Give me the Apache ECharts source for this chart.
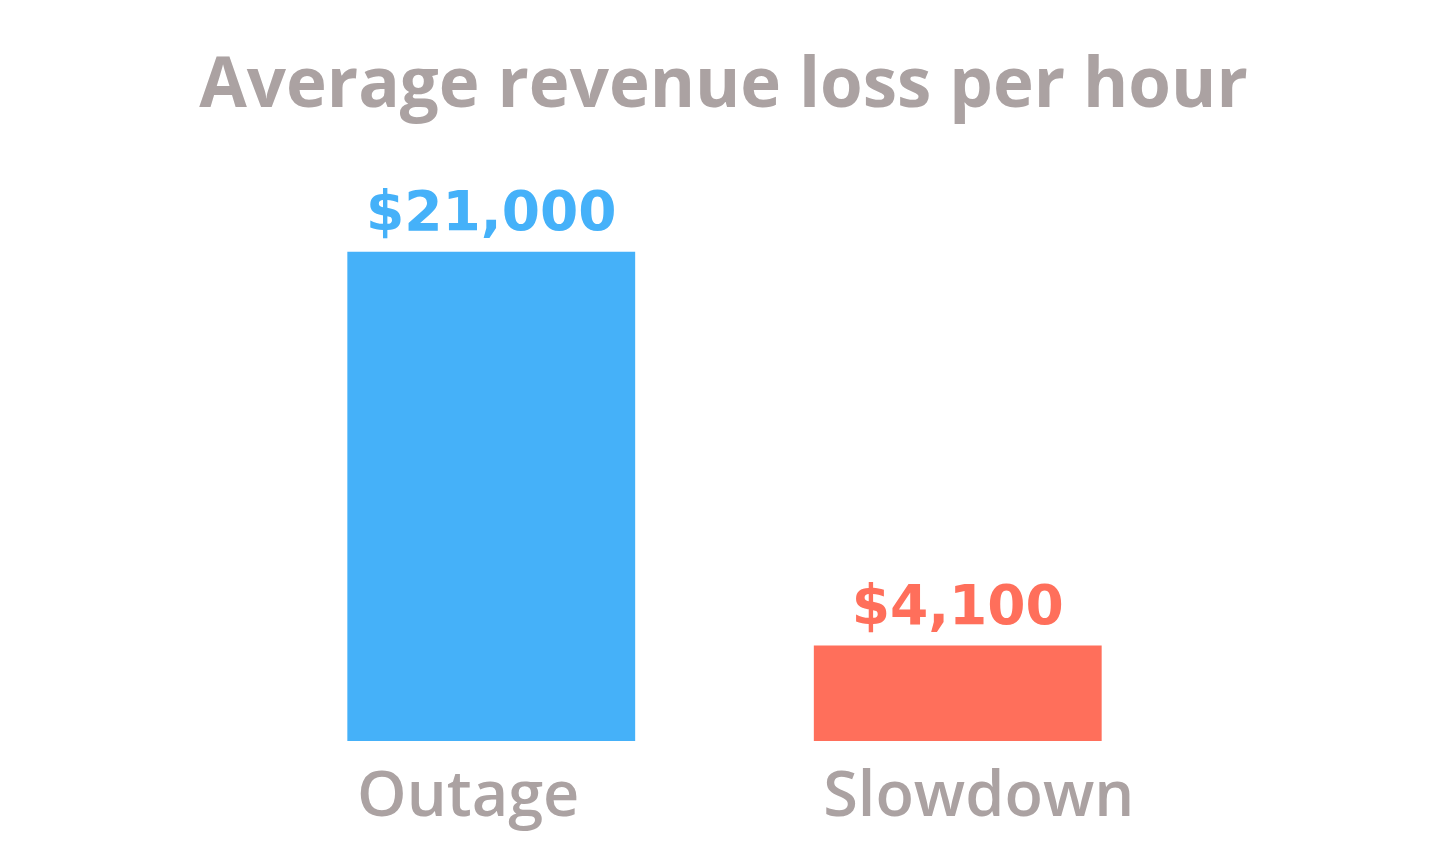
<!DOCTYPE html>
<html>
<head>
<meta charset="utf-8">
<script src="https://cdn.jsdelivr.net/npm/echarts@6/dist/echarts.min.js"></script>
<style>
  html, body { margin: 0; padding: 0; background: #fff; }
  #chart { width: 1447px; height: 860px; }
</style>
</head>
<body>
<div id="chart"></div>
<script>
// data
const categories = ['Outage', 'Slowdown'];
const values = [21000, 4100];
const barColors = ['#45b1f9', '#ff6f5b'];
const labelShift = [[0, 46, 0, 0], [0, 0, 0, 42]]; // category labels sit a bit off-centre

const grey = '#aba2a2';

let chart = echarts.init(document.getElementById('chart'));

const option = {
    backgroundColor: '#fff',
    title: {
        text: 'Average revenue loss per hour',
        left: 'center',
        top: 48,
        textStyle: {
            fontFamily: 'Open Sans',
            fontWeight: 'bold',
            fontSize: 69,
            color: grey
        }
    },
    grid: {
        left: 258,
        right: 256,
        top: 42,
        bottom: 119
    },
    xAxis: {
        type: 'category',
        data: categories.map((c, i) => ({
            value: c,
            textStyle: { padding: labelShift[i] }
        })),
        axisLine: { show: false },
        axisTick: { show: false },
        axisLabel: {
            margin: 26,
            fontFamily: 'Open Sans',
            fontWeight: 600,
            fontSize: 63,
            color: grey
        }
    },
    yAxis: {
        type: 'value',
        min: 0,
        max: 30000,
        show: false,
        splitLine: { show: false }
    },
    series: [{
        type: 'bar',
        barWidth: '61.7%',
        data: values.map((v, i) => ({
            value: v,
            itemStyle: { color: barColors[i] },
            label: { color: barColors[i] }
        })),
        label: {
            show: true,
            position: 'top',
            distance: 8,
            fontFamily: 'DejaVu Sans',
            fontWeight: 'bold',
            fontSize: 55,
            formatter: p => '$' + p.value.toLocaleString('en-US')
        }
    }]
};

chart.setOption(option);
</script>
</body>
</html>
